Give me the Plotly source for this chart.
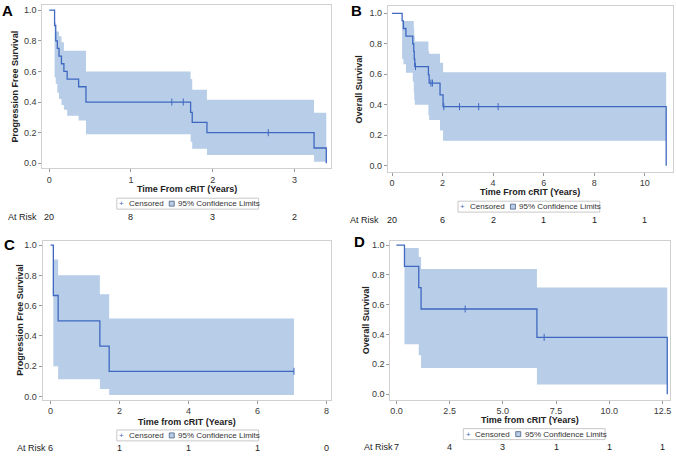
import plotly.graph_objects as go

W, H = 676, 456
LINE = "#3F68C0"
BAND = "#B7CDE8"
FONT = "Liberation Sans, Arial, sans-serif"

# ---------------- data ----------------
# Panel A: PFS
tA = [0, 0.066, 0.08, 0.10, 0.12, 0.15, 0.18, 0.22, 0.36, 0.45, 1.73, 1.75, 1.93, 3.24, 3.39]
sA = [1.0, 0.90, 0.80, 0.75, 0.70, 0.65, 0.60, 0.55, 0.50, 0.40, 0.333, 0.267, 0.20, 0.10, 0.0]
loA = [1.0, 0.56, 0.52, 0.46, 0.42, 0.38, 0.35, 0.31, 0.28, 0.19, 0.14, 0.095, 0.055, 0.01]
upA = [1.0, 0.92, 0.86, 0.86, 0.83, 0.79, 0.735, 0.735, 0.735, 0.60, 0.55, 0.48, 0.415, 0.33]
cenA_t = [1.50, 1.64, 2.68]
cenA_s = [0.40, 0.40, 0.20]
riskA_t = [0, 1, 2, 3]
riskA_n = ["20", "8", "3", "2"]

# Panel B: OS
tB = [0, 0.40, 0.45, 0.55, 0.82, 0.86, 0.88, 0.90, 1.44, 1.47, 1.90, 2.02, 10.85]
sB = [1.0, 0.95, 0.90, 0.85, 0.80, 0.75, 0.70, 0.65, 0.596, 0.542, 0.464, 0.387, 0.0]
loB = [1.0, 0.70, 0.665, 0.61, 0.55, 0.48, 0.43, 0.40, 0.33, 0.30, 0.23, 0.163]
upB = [1.0, 0.95, 0.95, 0.95, 0.95, 0.90, 0.85, 0.815, 0.75, 0.735, 0.675, 0.613]
cenB_t = [0.93, 1.54, 1.60, 2.05, 2.67, 3.43, 4.20]
cenB_s = [0.65, 0.542, 0.542, 0.387, 0.387, 0.387, 0.387]
riskB_t = [0, 2, 4, 6, 8, 10]
riskB_n = ["20", "6", "2", "1", "1", "1"]

# Panel C: PFS
tC = [0, 0.08, 0.22, 1.43, 1.70, 7.06]
sC = [1.0, 0.667, 0.50, 0.333, 0.167, 0.167]
loC = [1.0, 0.20, 0.115, 0.05, 0.01]
upC = [1.0, 0.905, 0.80, 0.675, 0.515]
cenC_t = [7.06]
cenC_s = [0.167]
riskC_t = [0, 2, 4, 6, 8]
riskC_n = ["6", "1", "1", "1", "0"]

# Panel D: OS
tD = [0, 0.38, 1.05, 1.16, 6.60, 12.72]
sD = [1.0, 0.857, 0.714, 0.571, 0.381, 0.0]
loD = [1.0, 0.335, 0.26, 0.175, 0.065]
upD = [1.0, 0.98, 0.92, 0.84, 0.715]
cenD_t = [3.23, 6.94]
cenD_s = [0.571, 0.381]
riskD_t = [0, 2.5, 5.0, 7.5, 10.0, 12.5]
riskD_n = ["7", "4", "3", "1", "1", "1"]

def px(x):
    return x / W

def py(y):
    return 1 - y / H

fig = go.Figure()

panels = [
    dict(ax="", t=tA, s=sA, lo=loA, up=upA, ct=cenA_t, cs=cenA_s, tend=3.39,
         dom_x=(42.3, 331.7), dom_y=(4, 168), xr=[-0.085, 3.45], yr=[-0.03, 1.034],
         xt=[0, 1, 2, 3], xfmt="", ytitle="Progression Free Survival", ytitle_pos=(15, 86),
         xtitle="Time From cRIT (Years)", xtitle_y=189.5, leg=(117, 204),
         risk_lbl=(6, 217.5), rt=riskA_t, rn=riskA_n, letter="A", letter_pos=(0, 10)),
    dict(ax="2", t=tB, s=sB, lo=loB, up=upB, ct=cenB_t, cs=cenB_s, tend=10.85,
         dom_x=(388.3, 674), dom_y=(5, 171.7), xr=[-0.17, 11.12], yr=[-0.039, 1.048],
         xt=[0, 2, 4, 6, 8, 10], xfmt="", ytitle="Overall Survival", ytitle_pos=(359.5, 89),
         xtitle="Time From cRIT (Years)", xtitle_y=192.5, leg=(458.7, 207),
         risk_lbl=(349, 220.5), rt=riskB_t, rn=riskB_n, letter="B", letter_pos=(350, 10)),
    dict(ax="3", t=tC, s=sC, lo=loC, up=upC, ct=cenC_t, cs=cenC_s, tend=7.06,
         dom_x=(42.7, 331), dom_y=(242, 401.3), xr=[-0.23, 8.12], yr=[-0.02, 1.024],
         xt=[0, 2, 4, 6, 8], xfmt="", ytitle="Progression Free Survival", ytitle_pos=(20, 321),
         xtitle="Time from cRIT (Years)", xtitle_y=423.5, leg=(117, 437.3),
         risk_lbl=(15, 449.7), rt=riskC_t, rn=riskC_n, letter="C", letter_pos=(2, 245)),
    dict(ax="4", t=tD, s=sD, lo=loD, up=upD, ct=cenD_t, cs=cenD_s, tend=12.72,
         dom_x=(391, 671), dom_y=(241.3, 401.3), xr=[-0.28, 12.85], yr=[-0.037, 1.029],
         xt=[0, 2.5, 5, 7.5, 10, 12.5], xfmt=".1f", ytitle="Overall Survival", ytitle_pos=(366, 321),
         xtitle="Time from cRIT (Years)", xtitle_y=422, leg=(464, 436),
         risk_lbl=(362.5, 448.7), rt=riskD_t, rn=riskD_n, letter="D", letter_pos=(353, 242)),
]

annotations = []
shapes = []
layout_axes = {}

for p in panels:
    xa = "x" + p["ax"]
    ya = "y" + p["ax"]
    # confidence band (from first event to end)
    bx = p["t"][1:len(p["lo"])] + [p["tend"]]
    blo = p["lo"][1:] + [p["lo"][-1]]
    bup = p["up"][1:] + [p["up"][-1]]
    fig.add_trace(go.Scatter(x=bx, y=blo, xaxis=xa, yaxis=ya, mode="lines",
                             line=dict(width=0, shape="hv", color=BAND),
                             showlegend=False, hoverinfo="skip"))
    fig.add_trace(go.Scatter(x=bx, y=bup, xaxis=xa, yaxis=ya, mode="lines",
                             line=dict(width=0, shape="hv", color=BAND),
                             fill="tonexty", fillcolor=BAND,
                             showlegend=False, hoverinfo="skip"))
    # survival step line
    fig.add_trace(go.Scatter(x=p["t"], y=p["s"], xaxis=xa, yaxis=ya, mode="lines",
                             line=dict(width=1.3, shape="hv", color=LINE),
                             showlegend=False))
    # censored marks
    fig.add_trace(go.Scatter(x=p["ct"], y=p["cs"], xaxis=xa, yaxis=ya, mode="markers",
                             marker=dict(symbol="line-ns", size=5,
                                         line=dict(width=1, color=LINE), color=LINE),
                             showlegend=False))

    axkey = "xaxis" + p["ax"]
    aykey = "yaxis" + p["ax"]
    layout_axes[axkey] = dict(
        domain=[px(p["dom_x"][0]), px(p["dom_x"][1])], range=p["xr"], anchor=ya,
        tickvals=p["xt"], tickformat=p["xfmt"], showgrid=False, zeroline=False,
        showline=True, mirror=True, linecolor="#D0D0D0", linewidth=1,
        ticks="outside", ticklen=3, tickcolor="#9A9A9A",
        tickfont=dict(family=FONT, size=9, color="#3A3A3A"))
    layout_axes[aykey] = dict(
        domain=[py(p["dom_y"][1]), py(p["dom_y"][0])], range=p["yr"], anchor=xa,
        tickvals=[0, 0.2, 0.4, 0.6, 0.8, 1.0], tickformat=".1f",
        showgrid=False, zeroline=False,
        showline=True, mirror=True, linecolor="#D0D0D0", linewidth=1,
        ticks="outside", ticklen=3, tickcolor="#9A9A9A",
        tickfont=dict(family=FONT, size=9, color="#3A3A3A"))

    # axis titles
    cx = (p["dom_x"][0] + p["dom_x"][1]) / 2
    annotations.append(dict(x=px(cx), y=py(p["xtitle_y"]), xref="paper", yref="paper",
                            text="<b>" + p["xtitle"] + "</b>", showarrow=False,
                            xanchor="center", yanchor="middle",
                            font=dict(family=FONT, size=9, color="#222222")))
    annotations.append(dict(x=px(p["ytitle_pos"][0]), y=py(p["ytitle_pos"][1]),
                            xref="paper", yref="paper",
                            text="<b>" + p["ytitle"] + "</b>", showarrow=False, textangle=-90,
                            xanchor="center", yanchor="middle",
                            font=dict(family=FONT, size=9, color="#222222")))
    # panel letter
    annotations.append(dict(x=px(p["letter_pos"][0]), y=py(p["letter_pos"][1]),
                            xref="paper", yref="paper", text="<b>" + p["letter"] + "</b>",
                            showarrow=False, xanchor="left", yanchor="middle",
                            font=dict(family=FONT, size=15, color="#000000")))
    # legend box
    L, cy = p["leg"]
    shapes.append(dict(type="rect", xref="paper", yref="paper",
                       x0=px(L), x1=px(L + 142), y0=py(cy - 5.5), y1=py(cy + 5.5),
                       line=dict(color="#C8C8C8", width=1), fillcolor="white"))
    annotations.append(dict(x=px(L + 4.8), y=py(cy), xref="paper", yref="paper",
                            text="+", showarrow=False, xanchor="center", yanchor="middle",
                            font=dict(family=FONT, size=8, color=LINE)))
    annotations.append(dict(x=px(L + 10), y=py(cy), xref="paper", yref="paper",
                            text="Censored", showarrow=False, xanchor="left", yanchor="middle",
                            font=dict(family=FONT, size=8, color="#333333")))
    shapes.append(dict(type="rect", xref="paper", yref="paper",
                       x0=px(L + 52.5), x1=px(L + 57.5), y0=py(cy - 2.5), y1=py(cy + 2.5),
                       line=dict(color="#4A5E80", width=0.8), fillcolor=BAND))
    annotations.append(dict(x=px(L + 59.5), y=py(cy), xref="paper", yref="paper",
                            text="95% Confidence Limits", showarrow=False,
                            xanchor="left", yanchor="middle",
                            font=dict(family=FONT, size=8, color="#333333")))
    # at risk row
    rx, ry = p["risk_lbl"]
    annotations.append(dict(x=px(rx), y=py(ry), xref="paper", yref="paper",
                            text="At Risk", showarrow=False, xanchor="left", yanchor="middle",
                            font=dict(family=FONT, size=9, color="#222222")))
    for t, n in zip(p["rt"], p["rn"]):
        annotations.append(dict(x=t, y=py(ry), xref=xa, yref="paper", text=n,
                                showarrow=False, xanchor="center", yanchor="middle",
                                font=dict(family=FONT, size=9, color="#222222")))

fig.update_layout(
    width=W, height=H, margin=dict(l=0, r=0, t=0, b=0),
    paper_bgcolor="white", plot_bgcolor="white",
    showlegend=False, annotations=annotations, shapes=shapes,
    **layout_axes)

fig.write_html("out.html", config={"displayModeBar": False},
               post_script="document.body.style.margin='0';document.body.style.overflow='hidden';")
